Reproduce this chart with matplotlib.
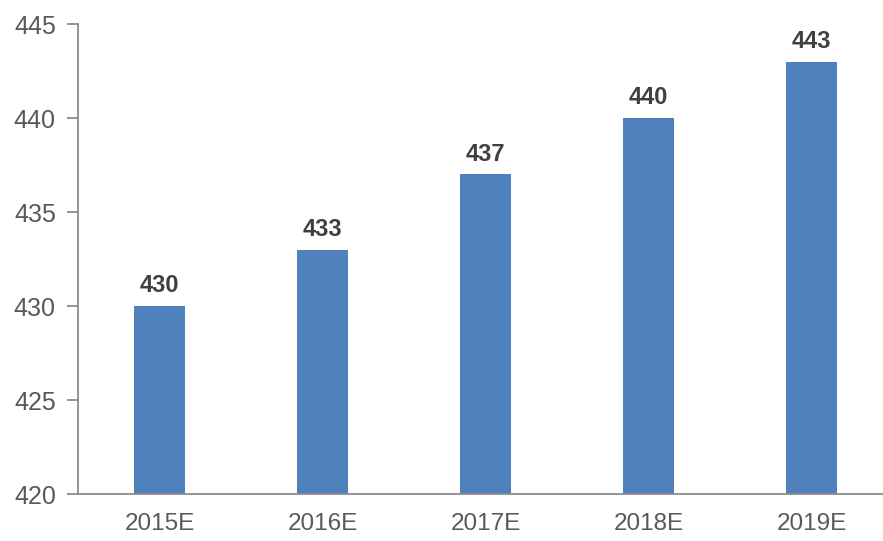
import matplotlib
matplotlib.use("Agg")
import matplotlib.pyplot as plt

categories = ["2015E", "2016E", "2017E", "2018E", "2019E"]
values = [430, 433, 437, 440, 443]
yticks = [420, 425, 430, 435, 440, 445]

plt.rcParams["font.family"] = ["Liberation Sans", "DejaVu Sans"]

W, H = 883, 541
fig = plt.figure(figsize=(W / 100, H / 100), dpi=100)
ax = fig.add_axes([78 / W, 47 / H, 815 / W, 470 / H])

x = list(range(len(categories)))
ax.bar(x, values, width=0.31, color="#4F81BD", zorder=2)

ax.set_xlim(-0.5, len(categories) - 0.5)
ax.set_ylim(420, 445)
ax.set_yticks(yticks)
ax.set_xticks(x)
ax.set_xticklabels(categories)

for s in ["top", "right"]:
    ax.spines[s].set_visible(False)
for s in ["left", "bottom"]:
    ax.spines[s].set_color("#8C8C8C")
    ax.spines[s].set_linewidth(1.3)

ax.tick_params(axis="y", length=8, width=1.3, color="#8C8C8C",
               labelsize=18, labelcolor="#595959", pad=8)
ax.tick_params(axis="x", length=0, labelsize=17.5, labelcolor="#595959", pad=14)

for xi, v in zip(x, values):
    ax.annotate(f"{v}", (xi, v), xytext=(0, 10), textcoords="offset points",
                ha="center", va="baseline", fontsize=17, fontweight="bold",
                color="#404040")

fig.savefig("out.png", dpi=100)
